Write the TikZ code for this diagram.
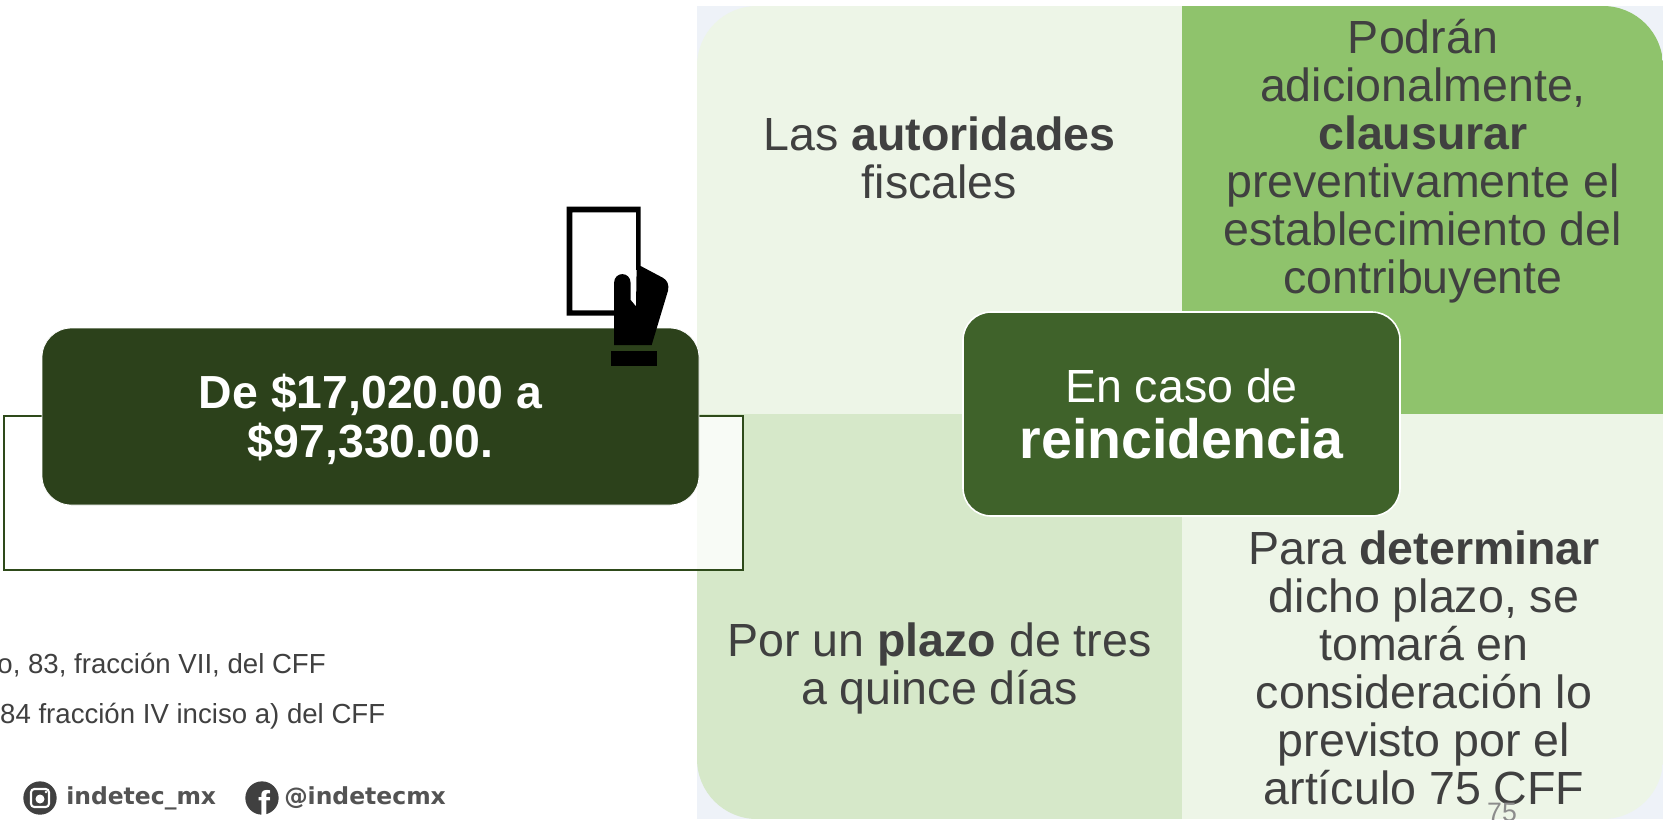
\documentclass[tikz,border=0pt]{standalone}
\usepackage{fontspec}
\setmainfont{Liberation Sans}
\newfontfamily\logofont{DejaVu Sans}
\definecolor{bgcorner}{HTML}{EEF2F8}
\definecolor{lightq}{HTML}{EDF5E7}
\definecolor{midq}{HTML}{D6E8C9}
\definecolor{strongq}{HTML}{8FC36C}
\definecolor{hubgreen}{HTML}{3F622A}
\definecolor{darkgreen}{HTML}{2C411B}
\definecolor{framegreen}{HTML}{2E4A1A}
\definecolor{bodytext}{HTML}{404040}
\definecolor{pagenum}{HTML}{8C8C8C}
\tikzset{
  quadtext/.style={text=bodytext,align=center,inner sep=0pt,font=\fontsize{34.9}{36}\selectfont},
  hubnode/.style={draw=white,line width=1.2pt,fill=hubgreen,rounded corners=21pt,text=white,align=center,minimum width=327.75pt,minimum height=153pt,inner sep=0pt},
  amountnode/.style={draw=white,line width=.6pt,fill=darkgreen,rounded corners=22pt,text=white,align=center,minimum width=492.75pt,minimum height=132.75pt,inner sep=0pt,font=\bfseries\fontsize{34.8}{37}\selectfont},
  foot/.style={text=bodytext,anchor=base east,inner sep=0pt,font=\fontsize{20.7}{24}\selectfont},
  logotext/.style={text=bodytext!90,anchor=base west,inner sep=0pt,font=\logofont\bfseries\fontsize{17.6}{20}\selectfont},
  logodisc/.style={circle,fill=bodytext,minimum size=25pt,inner sep=0pt}
}
\begin{document}
\begin{tikzpicture}[x=.75pt,y=-.75pt]
\clip (0,0) rectangle (1663,819);
\fill[white] (0,0) rectangle (1663,819);
% matrix
\fill[bgcorner] (697,6) rectangle (1663,819);
\begin{scope}
\clip[rounded corners=45pt] (697,6) rectangle (1663,819);
\fill[lightq] (697,6) rectangle (1182,414);
\fill[strongq] (1182,6) rectangle (1663,414);
\fill[midq] (697,414) rectangle (1182,819);
\fill[lightq] (1182,414) rectangle (1663,819);
\end{scope}
\node[quadtext] (tl) at (939.5,158) {Las \textbf{autoridades}\\fiscales};
\node[quadtext] (tr) at (1423,161) {Podrán\\adicionalmente,\\\textbf{clausurar}\\preventivamente el\\establecimiento del\\contribuyente};
\node[quadtext] (bl) at (939.5,668) {Por un \textbf{plazo} de tres\\a quince días};
\node[quadtext] (br) at (1424,668) {Para \textbf{determinar}\\dicho plazo, se\\tomará en\\consideración lo\\previsto por el\\artículo 75 CFF};
\node[hubnode] (hub) at (1181.5,414) {{\fontsize{34.9}{40}\selectfont En caso de}\\[11pt]{\bfseries\fontsize{41.6}{42}\selectfont reincidencia}};
\node[text=pagenum,inner sep=0pt,anchor=base,font=\fontsize{20}{24}\selectfont] (page) at (1502,821) {75};
% frame behind the amount box
\draw[framegreen,line width=1.4pt,fill=white,fill opacity=.85] (4,416) rectangle (743,570);
\node[amountnode] (amount) at (370.5,416.5) {\rule{0pt}{30pt}De \$17,020.00 a\\\$97,330.00.};
% card and hand
\begin{scope}[shift={(540,190)},x=.25pt,y=-.25pt]
\fill[white] (80,50) rectangle (302,377);
\fill[black,even odd rule] (80,50) rectangle (302,377) (97,67) rectangle (288,361);
\fill[white] (272,240) rectangle (290,348);
\fill[black] (302,228) -- (368,263) .. controls (382,270) and (388,285) .. (384,302) -- (335,465) -- (222,465) -- (222,280)
  .. controls (222,243) and (272,243) .. (272,280) -- (272,330) -- (288,349) -- (290,228) -- cycle;
\fill[black] (212,483) rectangle (352,528);
\end{scope}
% footnotes
\node[foot] (fna) at (326,673) {o, 83, fracción VII, del CFF};
\node[foot] (fnb) at (385.5,723) {84 fracción IV inciso a) del CFF};
% social
\node[logodisc] (ig) at (40,798) {};
\draw[white,line width=1.6pt,rounded corners=2.5pt] (31,789) rectangle (49,807);
\fill[white] (40,799) circle (4.5);
\fill[white] (46,792) circle (1.3);
\node[logotext] (igt) at (66,804) {indetec\_mx};
\node[logodisc] (fb) at (262,798) {};
\node[text=white,inner sep=0pt,font=\bfseries\fontsize{27}{27}\selectfont] (fbf) at (264,803) {f};
\node[logotext] (fbt) at (284,804) {@indetecmx};
\end{tikzpicture}
\end{document}
